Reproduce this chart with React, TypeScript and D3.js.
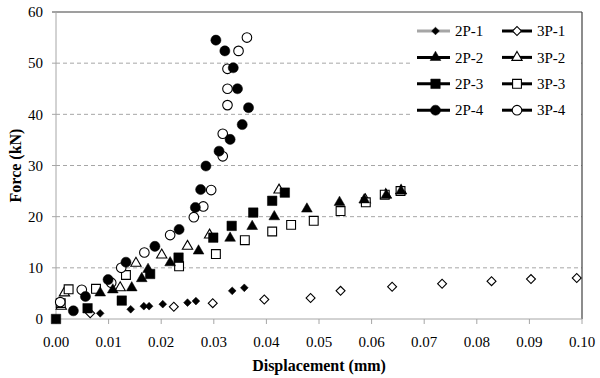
import React from "react";
import * as d3 from "d3";

const xTicks = [0, 0.01, 0.02, 0.03, 0.04, 0.05, 0.06, 0.07, 0.08, 0.09, 0.1];
const yTicks = [0, 10, 20, 30, 40, 50, 60];

const s2P1: [number, number][] = [
  [0.0084, 1.1], [0.0142, 1.9], [0.0167, 2.5], [0.0177, 2.5], [0.0203, 2.9],
  [0.025, 3.2], [0.0266, 3.5], [0.0335, 5.5], [0.0358, 6.1],
];
const s3P1: [number, number][] = [
  [0.0065, 1.1], [0.0224, 2.4], [0.0298, 3.1], [0.0396, 3.8], [0.0484, 4.1],
  [0.0541, 5.5], [0.0639, 6.3], [0.0734, 6.9], [0.0828, 7.4], [0.0903, 7.8], [0.099, 8.0],
];
const s2P2: [number, number][] = [
  [0.0084, 5.1], [0.0108, 5.7], [0.0144, 6.1], [0.0163, 7.9], [0.0175, 9.7],
  [0.0217, 11.0], [0.0271, 13.3], [0.0331, 15.8], [0.0373, 18.1], [0.0415, 20.0],
  [0.0477, 21.5], [0.0539, 22.8], [0.0586, 23.3], [0.0628, 24.2], [0.0656, 25.0],
];
const s3P2: [number, number][] = [
  [0.001, 2.5], [0.0016, 5.1], [0.0122, 6.1], [0.0152, 10.9], [0.0201, 12.5],
  [0.025, 14.2], [0.0292, 16.4], [0.0424, 25.2], [0.0588, 23.3], [0.0627, 24.3], [0.0656, 25.1],
];
const s2P3: [number, number][] = [
  [0.0, 0.0], [0.006, 2.1], [0.0125, 3.6], [0.0179, 8.8], [0.0233, 12.0],
  [0.0299, 15.9], [0.0334, 18.2], [0.0375, 20.8], [0.0411, 23.1], [0.0435, 24.7],
];
const s3P3: [number, number][] = [
  [0.0009, 3.1], [0.0024, 5.8], [0.0076, 5.9], [0.0133, 8.6], [0.0234, 10.3],
  [0.0304, 12.7], [0.0359, 15.4], [0.0411, 17.1], [0.0447, 18.4], [0.049, 19.2],
  [0.0541, 21.1], [0.0589, 22.8], [0.0625, 24.3], [0.0655, 25.0],
];
const s2P4: [number, number][] = [
  [0.0033, 1.6], [0.0056, 4.4], [0.0099, 7.7], [0.0133, 11.1], [0.0188, 14.2],
  [0.0234, 17.5], [0.0265, 21.8], [0.0275, 25.3], [0.0285, 29.9], [0.031, 32.8],
  [0.0331, 35.1], [0.0354, 38.0], [0.0366, 41.3], [0.0345, 45.0], [0.0337, 49.1],
  [0.0321, 52.4], [0.0304, 54.5],
];
const s3P4: [number, number][] = [
  [0.0008, 3.3], [0.0049, 5.7], [0.0105, 7.1], [0.0124, 10.0], [0.0168, 13.0],
  [0.0217, 16.4], [0.0262, 19.9], [0.028, 22.0], [0.0295, 25.2], [0.0317, 31.8],
  [0.0317, 36.2], [0.0326, 41.8], [0.0326, 45.0], [0.0326, 48.9], [0.0347, 52.4],
  [0.0363, 55.0],
];

type Shape = "diamond" | "triangle" | "square" | "circle";
interface Series {
  name: string;
  data: [number, number][];
  shape: Shape;
  filled: boolean;
  lineColor: string;
}

const series: Series[] = [
  { name: "2P-1", data: s2P1, shape: "diamond", filled: true, lineColor: "#a6a6a6" },
  { name: "3P-1", data: s3P1, shape: "diamond", filled: false, lineColor: "#000" },
  { name: "2P-2", data: s2P2, shape: "triangle", filled: true, lineColor: "#000" },
  { name: "3P-2", data: s3P2, shape: "triangle", filled: false, lineColor: "#000" },
  { name: "2P-3", data: s2P3, shape: "square", filled: true, lineColor: "#000" },
  { name: "3P-3", data: s3P3, shape: "square", filled: false, lineColor: "#000" },
  { name: "2P-4", data: s2P4, shape: "circle", filled: true, lineColor: "#000" },
  { name: "3P-4", data: s3P4, shape: "circle", filled: false, lineColor: "#000" },
];

const W = 600;
const H = 378;
const L = 56;
const R = 582;
const T = 12;
const B = 319;
const FONT = "'Liberation Serif', 'Times New Roman', serif";

function symbolPath(shape: Shape, filled: boolean): string {
  const gen = d3.symbol();
  if (shape === "circle") return gen.type(d3.symbolCircle).size(filled ? 80 : 72)() as string;
  if (shape === "square") return gen.type(d3.symbolSquare).size(filled ? 90 : 78)() as string;
  if (shape === "triangle") return gen.type(d3.symbolTriangle).size(filled ? 50 : 46)() as string;
  return gen.type(d3.symbolSquare).size(filled ? 30 : 40)() as string;
}

function Marker({ shape, filled, x, y }: { shape: Shape; filled: boolean; x: number; y: number }) {
  const rot = shape === "diamond" ? " rotate(45)" : "";
  return (
    <path
      d={symbolPath(shape, filled)}
      transform={`translate(${x},${y})${rot}`}
      fill={filled ? "#000" : "#fff"}
      stroke="#000"
      strokeWidth={filled ? 0.5 : 1.1}
    />
  );
}

export default function App() {
  const x = d3.scaleLinear().domain([0, 0.1]).range([L, R]);
  const y = d3.scaleLinear().domain([0, 60]).range([B, T]);

  const drawOrder = [1, 3, 5, 7, 0, 2, 4, 6].map((i) => series[i]);

  const legX1 = 417;
  const legX2 = 502;
  const legY0 = 31;
  const legDy = 26.4;

  return (
    <svg width={W} height={H} style={{ position: "absolute", left: 0, top: 0, background: "#fff" }}>
      <rect x={0} y={0} width={W} height={H} fill="#fff" />
      {/* gridlines */}
      {yTicks.filter((t) => t > 0 && t < 60).map((t) => (
        <line key={`g${t}`} x1={L} x2={R} y1={y(t)} y2={y(t)} stroke="#a6a6a6" strokeWidth={1} strokeDasharray="4,3" />
      ))}
      {/* borders */}
      <line x1={L - 4} x2={R} y1={T} y2={T} stroke="#404040" strokeWidth={1.2} />
      <line x1={R} x2={R} y1={T} y2={B} stroke="#404040" strokeWidth={1.2} />
      <line x1={L} x2={L} y1={T} y2={B} stroke="#a6a6a6" strokeWidth={1} />
      <line x1={L} x2={R} y1={B} y2={B} stroke="#a6a6a6" strokeWidth={1} />
      {yTicks.map((t) => (
        <g key={`yt${t}`}>
          <line x1={L - 4} x2={L} y1={y(t)} y2={y(t)} stroke="#a6a6a6" />
          <text x={43} y={y(t)} dy="0.35em" textAnchor="end" fontFamily={FONT} fontSize={15} fill="#000">
            {t}
          </text>
        </g>
      ))}
      {xTicks.map((t) => (
        <g key={`xt${t}`}>
          <line x1={x(t)} x2={x(t)} y1={B} y2={B + 5} stroke="#a6a6a6" />
          <text x={x(t)} y={347} textAnchor="middle" fontFamily={FONT} fontSize={15} fill="#000">
            {t.toFixed(2)}
          </text>
        </g>
      ))}
      <text x={(L + R) / 2} y={371} textAnchor="middle" fontFamily={FONT} fontSize={16} fontWeight="bold" fill="#000">
        Displacement (mm)
      </text>
      <text
        transform={`translate(21,${(T + B) / 2}) rotate(-90)`}
        textAnchor="middle"
        fontFamily={FONT}
        fontSize={16}
        fontWeight="bold"
        fill="#000"
      >
        Force (kN)
      </text>
      {/* data */}
      {drawOrder.map((s) => (
        <g key={s.name}>
          {s.data.map((d, i) => (
            <Marker key={i} shape={s.shape} filled={s.filled} x={x(d[0])} y={y(d[1])} />
          ))}
        </g>
      ))}
      {/* legend */}
      <rect x={410} y={18} width={168} height={104} fill="#fff" />
      {series.map((s, i) => {
        const col = i % 2;
        const row = Math.floor(i / 2);
        const lx = col === 0 ? legX1 : legX2;
        const len = col === 0 ? 33 : 30;
        const cy = legY0 + row * legDy;
        return (
          <g key={`leg${s.name}`}>
            <line x1={lx} x2={lx + len} y1={cy} y2={cy} stroke={s.lineColor} strokeWidth={3} />
            <Marker shape={s.shape} filled={s.filled} x={lx + len / 2 + (col === 0 ? 2 : 0)} y={cy} />
            <text x={lx + len + 5} y={cy} dy="0.35em" fontFamily={FONT} fontSize={15} fill="#000">
              {s.name}
            </text>
          </g>
        );
      })}
    </svg>
  );
}
